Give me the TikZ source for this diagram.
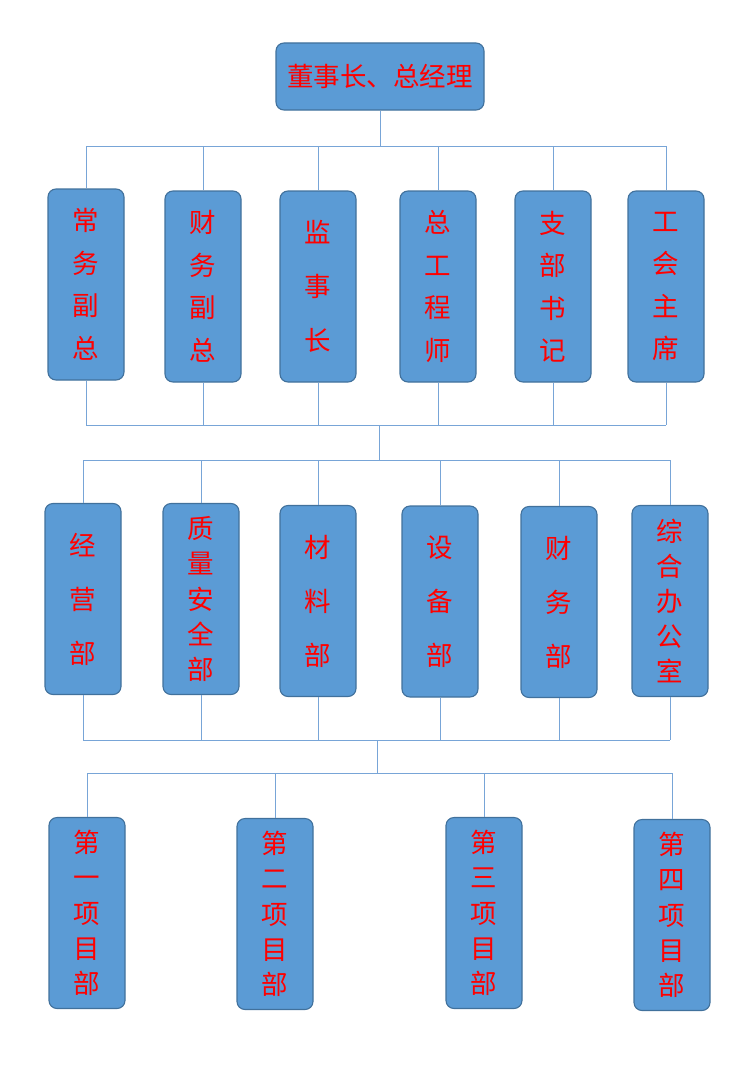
\documentclass[tikz,border=0pt]{standalone}
\usepackage{fontspec}
\newfontfamily\cjk{Noto Sans CJK SC}
\definecolor{boxfill}{RGB}{91,155,213}
\definecolor{boxedge}{RGB}{65,113,156}
\definecolor{linecol}{RGB}{120,165,215}
\tikzset{
  orgbox/.style={draw=boxedge, fill=boxfill, rounded corners=8pt, line width=1.1pt,
    minimum width=76pt, minimum height=191pt, inner sep=0pt, text=red, align=center},
  four/.style={font=\cjk\fontsize{26.5}{42.5}\selectfont},
  three/.style={font=\cjk\fontsize{26.5}{54}\selectfont},
  five/.style={font=\cjk\fontsize{26.5}{35.2}\selectfont},
  conn/.style={draw=linecol, line width=0.9pt},
}
\begin{document}
\begin{tikzpicture}[x=1pt,y=-1pt]
\useasboundingbox (0,0) rectangle (750,1073);
% top
\node[orgbox, minimum width=208pt, minimum height=67pt, font=\cjk\fontsize{26.5}{30}\selectfont] (top) at (380,76.5) {董事长、总经理};
% row 1
\node[orgbox, four] (a1) at (86,284.5) {常\\务\\副\\总};
\node[orgbox, four] (a2) at (203,286.5) {财\\务\\副\\总};
\node[orgbox, three] (a3) at (318,286.5) {监\\事\\长};
\node[orgbox, four] (a4) at (438,286.5) {总\\工\\程\\师};
\node[orgbox, four] (a5) at (553,286.5) {支\\部\\书\\记};
\node[orgbox, four] (a6) at (666,286.5) {工\\会\\主\\席};
% row 2
\node[orgbox, three] (b1) at (83,599) {经\\营\\部};
\node[orgbox, five] (b2) at (201,599) {质\\量\\安\\全\\部};
\node[orgbox, three] (b3) at (318,601) {材\\料\\部};
\node[orgbox, three] (b4) at (440,601.5) {设\\备\\部};
\node[orgbox, three] (b5) at (559,602) {财\\务\\部};
\node[orgbox, five] (b6) at (670,601) {综\\合\\办\\公\\室};
% row 3
\node[orgbox, five] (c1) at (87,913) {第\\一\\项\\目\\部};
\node[orgbox, five] (c2) at (275,914) {第\\二\\项\\目\\部};
\node[orgbox, five] (c3) at (484,913) {第\\三\\项\\目\\部};
\node[orgbox, five] (c4) at (672,915) {第\\四\\项\\目\\部};
% bus levels
\coordinate (y1) at (0,146);
\coordinate (y2) at (0,425);
\coordinate (y3) at (0,460);
\coordinate (y4) at (0,740);
\coordinate (y5) at (0,773);
\coordinate (m1) at (379,425);
\coordinate (m2) at (377,740);
% top to row 1
\draw[conn] (top.south) -- (top.south |- y1);
\draw[conn] (a1.north |- y1) -- (a6.north |- y1);
\foreach \n in {a1,a2,a3,a4,a5,a6} { \draw[conn] (\n.north) -- (\n.north |- y1); }
% row 1 to row 2
\foreach \n in {a1,a2,a3,a4,a5,a6} { \draw[conn] (\n.south) -- (\n.south |- y2); }
\draw[conn] (a1.south |- y2) -- (a6.south |- y2);
\draw[conn] (m1) -- (m1 |- y3);
\draw[conn] (b1.north |- y3) -- (b6.north |- y3);
\foreach \n in {b1,b2,b3,b4,b5,b6} { \draw[conn] (\n.north) -- (\n.north |- y3); }
% row 2 to row 3
\foreach \n in {b1,b2,b3,b4,b5,b6} { \draw[conn] (\n.south) -- (\n.south |- y4); }
\draw[conn] (b1.south |- y4) -- (b6.south |- y4);
\draw[conn] (m2) -- (m2 |- y5);
\draw[conn] (c1.north |- y5) -- (c4.north |- y5);
\foreach \n in {c1,c2,c3,c4} { \draw[conn] (\n.north) -- (\n.north |- y5); }
\end{tikzpicture}
\end{document}
